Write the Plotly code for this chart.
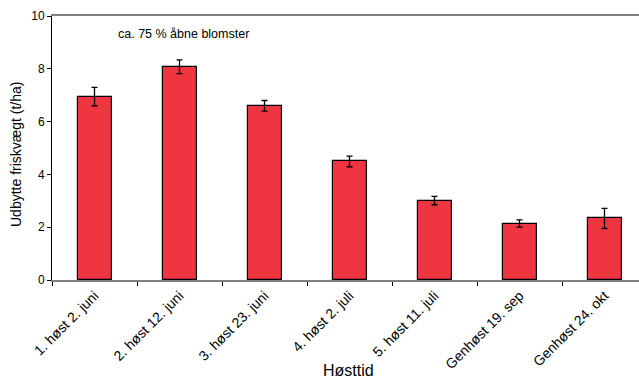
import plotly.graph_objects as go

# Harvest times and fresh-weight yield (t/ha) with standard errors
categories = ["1. høst 2. juni", "2. høst 12. juni", "3. høst 23. juni",
              "4. høst 2. juli", "5. høst 11. juli", "Genhøst 19. sep",
              "Genhøst 24. okt"]
yield_t_ha = [6.95, 8.08, 6.60, 4.49, 3.01, 2.14, 2.33]
std_err = [0.35, 0.26, 0.20, 0.20, 0.16, 0.14, 0.38]
y_ticks = [0, 2, 4, 6, 8, 10]

W, H = 639, 380
FONT = "Liberation Sans, Arial, sans-serif"
M_L, M_T, M_B = 52, 16, 100
plot_h = H - M_T - M_B
plot_w = W - M_L

fig = go.Figure(go.Bar(
    x=categories,
    y=yield_t_ha,
    width=0.4,
    marker=dict(color="#EE3540", line=dict(color="#000000", width=1.2)),
    error_y=dict(type="data", array=std_err, visible=True,
                 color="#000000", thickness=1.3, width=3),
))

fig.update_layout(
    width=W, height=H,
    margin=dict(l=M_L, r=0, t=M_T, b=M_B),
    paper_bgcolor="white", plot_bgcolor="white",
    font=dict(family=FONT, color="#000000", size=12),
    showlegend=False,
    bargap=0,
    annotations=[
        dict(text="ca. 75 % åbne blomster", x=1.05, y=9.3, xref="x", yref="y",
             showarrow=False, font=dict(size=12.5, family=FONT)),
        # x-axis title placed below the rotated category labels
        dict(text="Høsttid", xref="paper", yref="paper",
             x=(349 - M_L) / plot_w, y=-(370 - (H - M_B)) / plot_h,
             xanchor="center", yanchor="middle", showarrow=False,
             font=dict(size=16, family=FONT)),
        # y-axis title
        dict(text="Udbytte friskvægt (t/ha)", xref="paper", yref="paper",
             x=(16 - M_L) / plot_w, y=((H - M_B) - 154) / plot_h,
             xanchor="center", yanchor="middle", textangle=-90,
             showarrow=False, font=dict(size=14, family=FONT)),
    ],
)

# The category axis runs slightly past the right edge of the figure
fig.update_xaxes(
    type="category",
    range=[-0.5, -0.5 + plot_w / 85.0],
    showline=True, linecolor="#808080", linewidth=2, mirror=True,
    ticks="outside", tickson="boundaries", ticklen=4, tickcolor="#000000",
    tickangle=-45, tickfont=dict(size=14),
    showgrid=False, zeroline=False,
)
fig.update_yaxes(
    range=[0, 10], tickvals=y_ticks,
    showline=True, linecolor="#000000", linewidth=1,
    ticks="outside", ticklen=4, tickcolor="#000000",
    tickfont=dict(size=12),
    showgrid=False, zeroline=False,
)

fig.write_html("out.html")
